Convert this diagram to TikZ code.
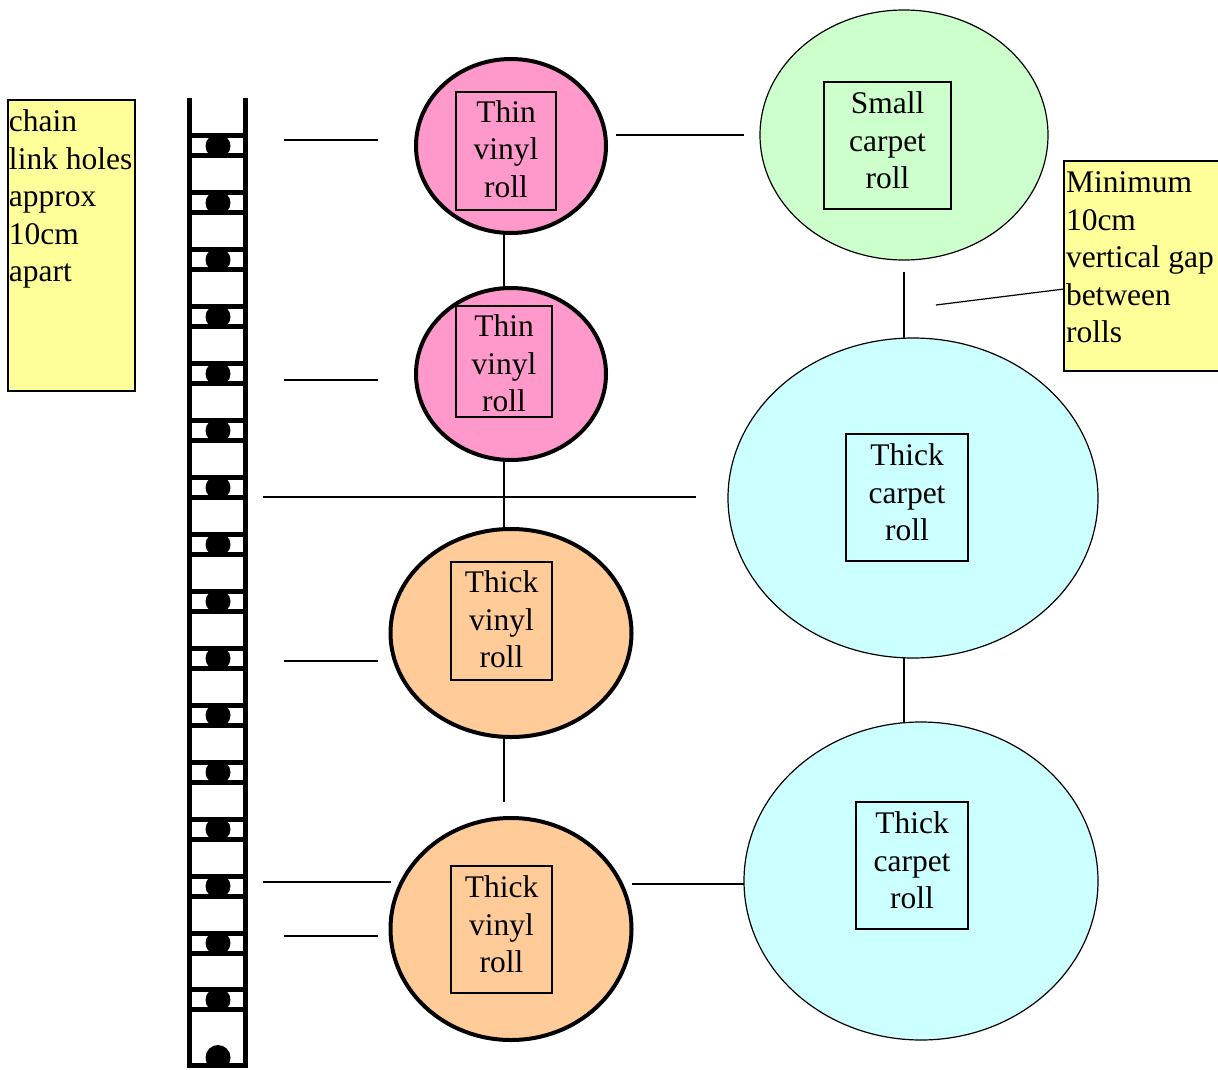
\documentclass[tikz,border=0pt]{standalone}
\usepackage{fontspec}
\setmainfont{Liberation Serif}
\usetikzlibrary{shapes.geometric}
\definecolor{pinkfill}{HTML}{FF99CC}
\definecolor{orangefill}{HTML}{FFCC99}
\definecolor{greenfill}{HTML}{CCFFCC}
\definecolor{cyanfill}{HTML}{CCFFFF}
\definecolor{notefill}{HTML}{FFFF99}
\tikzset{
  txt/.style={font=\fontsize{31.5}{37.5}\selectfont, inner sep=0pt, outer sep=0pt},
  vinylroll/.style={ellipse, draw, line width=4pt, inner sep=0pt, outer sep=0pt},
  carpetroll/.style={ellipse, draw, line width=1.2pt, inner sep=0pt, outer sep=0pt},
  labelbox/.style={draw, line width=1.2pt, inner sep=0pt, outer sep=0pt},
  labeltext/.style={txt, align=center},
  notebox/.style={draw, line width=1.3pt, fill=notefill},
  conn/.style={line width=1.2pt},
  rail/.style={line width=5pt},
}
\begin{document}
\begin{tikzpicture}[x=1pt,y=-1pt]
\useasboundingbox (0,0) rectangle (1218,1070);
% ---- chain ladder ----
\foreach \i in {0,...,15} {
  \pgfmathsetmacro{\yc}{146+\i*56.93}
  \fill (218,\yc) ellipse [x radius=12.5, y radius=12];
  \draw[rail] (189.5,\yc-10) -- (245.5,\yc-10);
  \draw[rail] (189.5,\yc+10) -- (245.5,\yc+10);
}
\begin{scope}
  \clip (189,1040) rectangle (246,1065.5);
  \fill (218,1057.5) circle (12.5);
\end{scope}
\draw[rail] (189.5,1065.5) -- (245.5,1065.5);
\draw[rail] (189.5,98) -- (189.5,1068);
\draw[rail] (245.5,98) -- (245.5,1068);

% ---- note boxes ----
\draw[notebox] (8,100) rectangle (135,391);
\node[txt, anchor=north west, align=left] (chainnote) at (9,110) {chain\\link holes\\approx\\10cm\\apart};
\draw[notebox] (1064,161) rectangle (1218.5,371);
\node[txt, anchor=north west, align=left] (gapnote) at (1066,172) {Minimum\\10cm\\vertical gap\\between\\rolls};
\coordinate (gapL) at (1064,289);

% ---- rolls ----
\node[vinylroll, fill=pinkfill, minimum width=190, minimum height=174] (tv1) at (511,146) {};
\node[labelbox, minimum width=100, minimum height=118] (tv1t) at (506,151) {};
\node[labeltext] (tv1l) at (506,149) {Thin\\vinyl\\roll};
\node[vinylroll, fill=pinkfill, minimum width=190, minimum height=172] (tv2) at (511,374) {};
\node[labelbox, minimum width=96, minimum height=111] (tv2t) at (504,361.5) {};
\node[labeltext] (tv2l) at (504,363.5) {Thin\\vinyl\\roll};
\node[vinylroll, fill=orangefill, minimum width=241, minimum height=208] (kv1) at (511,633) {};
\node[labelbox, minimum width=101, minimum height=118] (kv1t) at (501.5,621) {};
\node[labeltext] (kv1l) at (501.5,619.5) {Thick\\vinyl\\roll};
\node[vinylroll, fill=orangefill, minimum width=241, minimum height=222] (kv2) at (511,929) {};
\node[labelbox, minimum width=101, minimum height=127] (kv2t) at (501.5,929.5) {};
\node[labeltext] (kv2l) at (501.5,924.5) {Thick\\vinyl\\roll};

\node[carpetroll, fill=greenfill, minimum width=288, minimum height=250] (sc) at (904,135) {};
\node[labelbox, minimum width=127, minimum height=127] (sct) at (887.5,145.5) {};
\node[labeltext] (scl) at (887.5,140.5) {Small\\carpet\\roll};
\node[carpetroll, fill=cyanfill, minimum width=370, minimum height=320] (kc1) at (913,498) {};
\node[labelbox, minimum width=122, minimum height=127] (kc1t) at (907,497.5) {};
\node[labeltext] (kc1l) at (907,492.5) {Thick\\carpet\\roll};
\node[carpetroll, fill=cyanfill, minimum width=354, minimum height=318] (kc2) at (921,881) {};
\node[labelbox, minimum width=112, minimum height=127] (kc2t) at (912,865.5) {};
\node[labeltext] (kc2l) at (912,860.5) {Thick\\carpet\\roll};

% ---- connector coordinates ----
\coordinate (a1) at (284,140); \coordinate (a2) at (378,140);
\coordinate (b1) at (284,380); \coordinate (b2) at (378,380);
\coordinate (c1) at (263,497); \coordinate (c2) at (696,497);
\coordinate (d1) at (284,661); \coordinate (d2) at (378,661);
\coordinate (e1) at (263,882); \coordinate (e2) at (391,882);
\coordinate (f1) at (284,936); \coordinate (f2) at (378,936);
\coordinate (g1) at (504,233); \coordinate (g2) at (504,288);
\coordinate (h1) at (504,460); \coordinate (h2) at (504,528);
\coordinate (i1) at (504,737); \coordinate (i2) at (504,802);
\coordinate (j1) at (632,884); \coordinate (j2) at (744,884);
\coordinate (k1) at (616,135); \coordinate (k2) at (744,135);
\coordinate (l1) at (904,272); \coordinate (l2) at (904,338);
\coordinate (m1) at (904,658); \coordinate (m2) at (904,722);
\coordinate (n1) at (936,305);

\foreach \p/\q in {a1/a2,b1/b2,c1/c2,d1/d2,e1/e2,f1/f2,g1/g2,h1/h2,i1/i2,j1/j2,k1/k2,l1/l2,m1/m2,n1/gapL}
  \draw[conn] (\p) -- (\q);
\end{tikzpicture}
\end{document}
